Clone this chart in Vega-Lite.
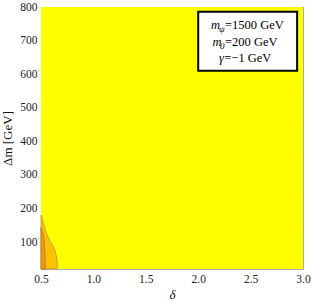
{
  "$schema": "https://vega.github.io/schema/vega-lite/v6.json",
  "width": 262,
  "height": 262,
  "autosize": "none",
  "padding": {"left": 41, "top": 7, "right": 9, "bottom": 36},
  "background": "white",
  "config": {
    "view": {"stroke": null},
    "font": "Liberation Serif",
    "axis": {"grid": false, "labelFont": "Liberation Serif", "titleFont": "Liberation Serif", "labelColor": "#222", "titleColor": "#111", "labelFontSize": 11.5, "titleFontSize": 13, "domainColor": "#aaa", "tickColor": "#999", "titleFontWeight": "normal"}
  },
  "datasets": {
    "bg": [{"d0": 0.5, "d1": 3.0, "m0": 20, "m1": 800}],
    "light": [
      {"delta": 0.655, "dm": 20},
      {"delta": 0.655, "dm": 45},
      {"delta": 0.646, "dm": 60},
      {"delta": 0.635, "dm": 72},
      {"delta": 0.615, "dm": 90},
      {"delta": 0.59, "dm": 100},
      {"delta": 0.575, "dm": 110},
      {"delta": 0.55, "dm": 128},
      {"delta": 0.529, "dm": 150},
      {"delta": 0.51, "dm": 172},
      {"delta": 0.5, "dm": 180}
    ],
    "dark": [
      {"delta": 0.54, "dm": 20},
      {"delta": 0.54, "dm": 45},
      {"delta": 0.538, "dm": 65},
      {"delta": 0.535, "dm": 85},
      {"delta": 0.532, "dm": 100},
      {"delta": 0.525, "dm": 115},
      {"delta": 0.515, "dm": 130},
      {"delta": 0.5, "dm": 143}
    ],
    "box": [{"d0": 2.0, "d1": 2.944, "m0": 610, "m1": 786}],
    "legendMain": [
      {"label": "=1500 GeV", "delta": 2.256, "dm": 746},
      {"label": "=200 GeV", "delta": 2.256, "dm": 695},
      {"label": "=\u22121 GeV", "delta": 2.249, "dm": 647}
    ],
    "legendItalic": [
      {"label": "m", "delta": 2.208, "dm": 746},
      {"label": "m", "delta": 2.222, "dm": 695},
      {"label": "\u03b3", "delta": 2.246, "dm": 647}
    ],
    "legendSub": [
      {"label": "\u03c8", "delta": 2.251, "dm": 746},
      {"label": "0", "delta": 2.251, "dm": 695}
    ]
  },
  "resolve": {"axis": {"x": "independent", "y": "independent"}},
  "layer": [
    {
      "data": {"name": "bg"},
      "mark": {"type": "rect", "fill": "#FFFF00"},
      "encoding": {
        "x": {"field": "d0", "type": "quantitative", "scale": {"domain": [0.5, 3.0], "nice": false, "zero": false},
              "axis": {"title": "\u03b4", "titleFontStyle": "italic", "labelFont": "Liberation Serif", "values": [0.5, 1.0, 1.5, 2.0, 2.5, 3.0], "format": ".1f", "tickSize": -4, "labelPadding": 8, "titlePadding": 4, "labelFlush": false}},
        "x2": {"field": "d1"},
        "y": {"field": "m0", "type": "quantitative", "scale": {"domain": [20, 800], "nice": false, "zero": false},
              "axis": {"title": "\u0394m [GeV]", "labelFont": "Liberation Serif", "values": [100, 200, 300, 400, 500, 600, 700, 800], "tickSize": -4, "labelPadding": 8, "titlePadding": 5, "labelFlush": false}},
        "y2": {"field": "m1"}
      }
    },
    {
      "data": {"name": "bg"},
      "mark": {"type": "rect", "opacity": 0},
      "encoding": {
        "x": {"field": "d0", "type": "quantitative", "axis": {"title": null, "labels": false, "domain": false, "values": [0.6, 0.7, 0.8, 0.9, 1.1, 1.2, 1.3, 1.4, 1.6, 1.7, 1.8, 1.9, 2.1, 2.2, 2.3, 2.4, 2.6, 2.7, 2.8, 2.9], "tickSize": -2}},
        "x2": {"field": "d1"},
        "y": {"field": "m0", "type": "quantitative", "axis": {"title": null, "labels": false, "domain": false, "values": [50, 150, 250, 350, 450, 550, 650, 750], "tickSize": -2}},
        "y2": {"field": "m1"}
      }
    },
    {
      "data": {"name": "bg"},
      "mark": {"type": "rect", "opacity": 0},
      "encoding": {
        "x": {"field": "d0", "type": "quantitative", "axis": {"orient": "top", "title": null, "labels": false, "values": [0.5, 1.0, 1.5, 2.0, 2.5, 3.0], "tickSize": -4}},
        "x2": {"field": "d1"},
        "y": {"field": "m0", "type": "quantitative", "axis": {"orient": "right", "title": null, "labels": false, "values": [100, 200, 300, 400, 500, 600, 700, 800], "tickSize": -4}},
        "y2": {"field": "m1"}
      }
    },
    {
      "data": {"name": "bg"},
      "mark": {"type": "rect", "opacity": 0},
      "encoding": {
        "x": {"field": "d0", "type": "quantitative", "axis": {"orient": "top", "title": null, "labels": false, "domain": false, "values": [0.6, 0.7, 0.8, 0.9, 1.1, 1.2, 1.3, 1.4, 1.6, 1.7, 1.8, 1.9, 2.1, 2.2, 2.3, 2.4, 2.6, 2.7, 2.8, 2.9], "tickSize": -2}},
        "x2": {"field": "d1"},
        "y": {"field": "m0", "type": "quantitative", "axis": {"orient": "right", "title": null, "labels": false, "domain": false, "values": [50, 150, 250, 350, 450, 550, 650, 750], "tickSize": -2}},
        "y2": {"field": "m1"}
      }
    },
    {
      "data": {"name": "light"},
      "mark": {"type": "area", "orient": "horizontal", "fill": "#FFC000", "stroke": "#B8962E", "strokeWidth": 0.8},
      "encoding": {
        "y": {"field": "dm", "type": "quantitative", "axis": null},
        "x": {"field": "delta", "type": "quantitative", "axis": null},
        "x2": {"datum": 0.5}
      }
    },
    {
      "data": {"name": "dark"},
      "mark": {"type": "area", "orient": "horizontal", "fill": "#F39A12", "stroke": "#A8782A", "strokeWidth": 0.8},
      "encoding": {
        "y": {"field": "dm", "type": "quantitative", "axis": null},
        "x": {"field": "delta", "type": "quantitative", "axis": null},
        "x2": {"datum": 0.5}
      }
    },
    {
      "data": {"name": "box"},
      "mark": {"type": "rect", "fill": "white", "stroke": "black", "strokeWidth": 2},
      "encoding": {
        "x": {"field": "d0", "type": "quantitative", "axis": null},
        "x2": {"field": "d1"},
        "y": {"field": "m0", "type": "quantitative", "axis": null},
        "y2": {"field": "m1"}
      }
    },
    {
      "data": {"name": "legendMain"},
      "mark": {"type": "text", "align": "left", "baseline": "middle", "fontSize": 12.5, "font": "Liberation Serif", "color": "black"},
      "encoding": {
        "x": {"field": "delta", "type": "quantitative", "axis": null},
        "y": {"field": "dm", "type": "quantitative", "axis": null},
        "text": {"field": "label"}
      }
    },
    {
      "data": {"name": "legendItalic"},
      "mark": {"type": "text", "align": "right", "baseline": "middle", "fontSize": 12.5, "fontStyle": "italic", "font": "Liberation Serif", "color": "black"},
      "encoding": {
        "x": {"field": "delta", "type": "quantitative", "axis": null},
        "y": {"field": "dm", "type": "quantitative", "axis": null},
        "text": {"field": "label"}
      }
    },
    {
      "data": {"name": "legendSub"},
      "mark": {"type": "text", "align": "right", "baseline": "middle", "fontSize": 9, "fontStyle": "italic", "font": "Liberation Serif", "color": "black", "dy": 4},
      "encoding": {
        "x": {"field": "delta", "type": "quantitative", "axis": null},
        "y": {"field": "dm", "type": "quantitative", "axis": null},
        "text": {"field": "label"}
      }
    }
  ]
}
